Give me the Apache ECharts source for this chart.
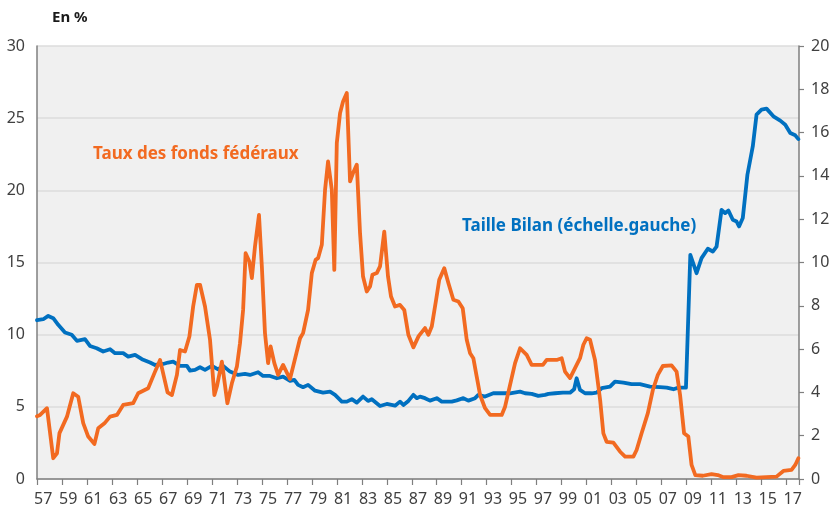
<!DOCTYPE html>
<html>
<head>
<meta charset="utf-8">
<title>Taille bilan / taux des fonds fédéraux</title>
<script src="https://cdn.jsdelivr.net/npm/echarts@6/dist/echarts.min.js"></script>
<style>
  html, body { margin: 0; padding: 0; background: #fff; }
  #chart { width: 836px; height: 509px; }
</style>
</head>
<body>
<div id="chart"></div>
<script>
// années affichées sur l'axe (57 ... 17)
const yearLabels = [];
for (let y = 1957; y <= 2017; y++) {
  yearLabels.push(String(y).slice(2));
}

// Taux des fonds fédéraux (échelle droite)
const fedYears = [
  1957.0, 1957.25, 1957.8, 1958.3, 1958.6, 1958.8, 1959.4, 1959.9, 1960.3, 1960.7,
  1961.1, 1961.6, 1961.9, 1962.4, 1962.85, 1963.4, 1963.9, 1964.7, 1965.1, 1965.9,
  1966.4, 1966.85, 1967.45, 1967.8, 1968.2, 1968.45, 1968.85, 1969.2, 1969.5, 1969.8,
  1970.05, 1970.45, 1970.85, 1971.2, 1971.4, 1971.8, 1972.24, 1972.6, 1973.0, 1973.25,
  1973.5, 1973.7, 1974.0, 1974.2, 1974.45, 1974.77, 1975.0, 1975.25, 1975.5, 1975.7,
  1976.0, 1976.3, 1976.7, 1977.25, 1977.5, 1978.06, 1978.3, 1978.7, 1979.0, 1979.3,
  1979.5, 1979.8, 1980.06, 1980.3, 1980.6, 1980.8, 1981.0, 1981.26, 1981.5, 1981.8,
  1982.06, 1982.3, 1982.6, 1982.86, 1983.1, 1983.4, 1983.66, 1983.85, 1984.2, 1984.46,
  1984.8, 1985.1, 1985.34, 1985.66, 1986.06, 1986.4, 1986.73, 1987.13, 1987.55, 1988.06,
  1988.33, 1988.6, 1988.95, 1989.2, 1989.6, 1989.93, 1990.33, 1990.73, 1991.08, 1991.4,
  1991.67, 1991.93, 1992.2, 1992.47, 1992.87, 1993.27, 1993.8, 1994.2, 1994.47, 1994.87,
  1995.27, 1995.67, 1996.2, 1996.6, 1997.0, 1997.5, 1997.8, 1998.6, 1999.0, 1999.27,
  1999.67, 2000.07, 2000.47, 2000.74, 2001.0, 2001.27, 2001.67, 2002.08, 2002.34, 2002.6,
  2003.14, 2003.68, 2004.08, 2004.74, 2005.0, 2005.4, 2005.9, 2006.3, 2006.7, 2007.1,
  2007.8, 2008.2, 2008.48, 2008.8, 2009.14, 2009.4, 2009.7, 2010.3, 2011.0, 2011.5,
  2011.9, 2012.6, 2013.15, 2013.8, 2014.6, 2015.4, 2016.2, 2016.75, 2017.4, 2017.7,
  2017.95
];
const fedRate = [
  2.9, 2.96, 3.27, 0.96, 1.19, 2.12, 2.88, 3.96, 3.8, 2.58,
  1.96, 1.62, 2.34, 2.57, 2.88, 2.96, 3.42, 3.5, 3.96, 4.19,
  4.89, 5.5, 4.0, 3.88, 4.81, 5.96, 5.89, 6.58, 7.97, 8.97,
  8.97, 7.97, 6.43, 3.88, 4.27, 5.42, 3.5, 4.42, 5.19, 6.27,
  7.81, 10.43, 10.05, 9.28, 10.74, 12.2, 9.82, 6.74, 5.35, 6.12,
  5.35, 4.81, 5.27, 4.62, 5.19, 6.5, 6.74, 7.81, 9.51, 10.12,
  10.2, 10.82, 13.36, 14.67, 13.36, 9.66, 15.52, 16.9, 17.44, 17.83,
  13.75, 14.13, 14.52, 11.36, 9.35, 8.66, 8.89, 9.43, 9.51, 9.82,
  11.43, 9.35, 8.43, 7.97, 8.04, 7.81, 6.66, 6.08, 6.6, 6.97,
  6.66, 7.04, 8.28, 9.2, 9.74, 9.05, 8.28, 8.2, 7.89, 6.43,
  5.81, 5.58, 4.73, 3.88, 3.27, 2.96, 2.96, 2.96, 3.34, 4.35,
  5.35, 6.04, 5.73, 5.27, 5.27, 5.27, 5.5, 5.5, 5.58, 4.96,
  4.66, 5.12, 5.58, 6.2, 6.5, 6.43, 5.5, 3.65, 2.11, 1.72,
  1.68, 1.26, 1.03, 1.03, 1.34, 2.11, 3.04, 4.11, 4.81, 5.22,
  5.25, 4.96, 3.88, 2.11, 1.96, 0.65, 0.18, 0.15, 0.22, 0.18,
  0.09, 0.09, 0.18, 0.15, 0.06, 0.09, 0.11, 0.37, 0.42, 0.65,
  0.96
];

// Taille du bilan (échelle gauche, en %)
const bilanYears = [
  1957.0, 1957.5, 1957.9, 1958.3, 1958.7, 1959.24, 1959.78, 1960.2, 1960.84, 1961.24,
  1961.78, 1962.3, 1962.85, 1963.25, 1963.9, 1964.3, 1964.85, 1965.4, 1966.05, 1966.45,
  1967.1, 1967.5, 1967.9, 1968.45, 1969.0, 1969.25, 1969.65, 1970.05, 1970.45, 1971.0,
  1971.5, 1971.9, 1972.45, 1973.1, 1973.65, 1974.05, 1974.7, 1975.1, 1975.65, 1976.2,
  1976.7, 1977.26, 1977.6, 1977.9, 1978.3, 1978.7, 1979.26, 1979.9, 1980.46, 1980.86,
  1981.4, 1981.8, 1982.2, 1982.6, 1983.1, 1983.5, 1983.8, 1984.46, 1985.0, 1985.66,
  1986.06, 1986.33, 1986.73, 1987.13, 1987.4, 1987.66, 1988.06, 1988.46, 1989.0, 1989.4,
  1990.2, 1990.6, 1991.13, 1991.53, 1992.07, 1992.33, 1992.87, 1993.53, 1994.07, 1994.87,
  1995.67, 1996.07, 1996.6, 1997.13, 1997.67, 1997.94, 1998.47, 1999.1, 1999.67, 2000.0,
  2000.2, 2000.47, 2000.87, 2001.4, 2001.8, 2002.2, 2002.87, 2003.27, 2003.94, 2004.6,
  2005.27, 2006.07, 2006.87, 2007.4, 2007.95, 2008.35, 2008.95, 2009.3, 2009.8, 2010.2,
  2010.7, 2011.1, 2011.4, 2011.8, 2012.08, 2012.35, 2012.7, 2013.0, 2013.2, 2013.5,
  2013.87, 2014.3, 2014.6, 2015.0, 2015.4, 2015.95, 2016.5, 2016.9, 2017.3, 2017.7,
  2017.95
];
const bilanSize = [
  11.0, 11.07, 11.3, 11.14, 10.68, 10.15, 9.99, 9.57, 9.69, 9.22,
  9.06, 8.83, 8.99, 8.72, 8.72, 8.48, 8.6, 8.3, 8.07, 7.9,
  7.97, 8.07, 8.13, 7.84, 7.84, 7.51, 7.56, 7.74, 7.56, 7.84,
  7.6, 7.84, 7.44, 7.21, 7.28, 7.21, 7.4, 7.14, 7.14, 6.98,
  7.09, 6.8, 6.87, 6.52, 6.36, 6.52, 6.12, 5.98, 6.05, 5.83,
  5.36, 5.36, 5.53, 5.29, 5.71, 5.41, 5.53, 5.06, 5.2, 5.08,
  5.36, 5.13, 5.41, 5.83, 5.6, 5.71, 5.6, 5.43, 5.6, 5.36,
  5.36, 5.45, 5.6, 5.43, 5.6, 5.83, 5.71, 5.94, 5.94, 5.94,
  6.05, 5.94, 5.9, 5.76, 5.83, 5.9, 5.94, 5.98, 5.98, 6.22,
  6.98, 6.17, 5.94, 5.94, 5.98, 6.29, 6.4, 6.75, 6.68, 6.57,
  6.57, 6.4, 6.36, 6.33, 6.22, 6.33, 6.33, 15.53, 14.26, 15.3,
  15.95, 15.76, 16.1, 18.65, 18.42, 18.6, 17.96, 17.84, 17.5, 18.08,
  21.08, 23.04, 25.24, 25.59, 25.66, 25.13, 24.83, 24.55, 23.97, 23.81,
  23.55
];

const startYear = 1957;
const toPoints = (years, vals) => years.map((y, i) => [y - startYear, vals[i]]);

const axisColor = '#7f7f7f';
const labelStyle = { color: '#404040', fontSize: 16, fontFamily: 'Noto Sans' };

const chart = echarts.init(document.getElementById('chart'));

const option = {
  animation: false,
  backgroundColor: '#ffffff',
  grid: {
    left: 37,
    right: 37,
    top: 46,
    bottom: 30,
    show: true,
    backgroundColor: '#f0f0f0',
    borderWidth: 0,
    outerBoundsMode: 'none'
  },
  title: {
    text: 'En %',
    left: 47,
    top: 5,
    textStyle: { fontSize: 15, fontWeight: 'bold', color: '#1a1a1a', fontFamily: 'Noto Sans' }
  },
  xAxis: [
    {
      type: 'value',
      position: 'bottom',
      min: 0,
      max: 61,
      interval: 2,
      axisLine: { show: true, lineStyle: { color: axisColor, width: 1.5 } },
      axisTick: { show: true, length: 6, lineStyle: { color: axisColor, width: 1.2 } },
      axisLabel: { show: false },
      splitLine: { show: false }
    },
    {
      type: 'category',
      position: 'bottom',
      data: yearLabels,
      boundaryGap: true,
      axisLine: { show: false },
      axisTick: { show: false },
      axisLabel: Object.assign({ interval: 1, margin: 12 }, labelStyle),
      splitLine: { show: false }
    }
  ],
  yAxis: [
    {
      type: 'value',
      min: 0,
      max: 30,
      interval: 5,
      axisLine: { show: true, lineStyle: { color: axisColor, width: 1.5 } },
      axisTick: { show: false },
      axisLabel: Object.assign({ margin: 12 }, labelStyle),
      splitLine: { show: true, lineStyle: { color: '#dcdcdc', width: 1.5 } }
    },
    {
      type: 'value',
      min: 0,
      max: 20,
      interval: 2,
      position: 'right',
      axisLine: { show: true, lineStyle: { color: axisColor, width: 1.5 } },
      axisTick: { show: true, length: 5, lineStyle: { color: axisColor, width: 1.2 } },
      axisLabel: Object.assign({ margin: 12 }, labelStyle),
      splitLine: { show: false }
    }
  ],
  series: [
    {
      name: 'Taille Bilan',
      type: 'line',
      xAxisIndex: 0,
      yAxisIndex: 0,
      showSymbol: false,
      data: toPoints(bilanYears, bilanSize),
      lineStyle: { color: '#0070c0', width: 3.8, join: 'round', cap: 'round' }
    },
    {
      name: 'Taux des fonds fédéraux',
      type: 'line',
      xAxisIndex: 0,
      yAxisIndex: 1,
      showSymbol: false,
      data: toPoints(fedYears, fedRate),
      lineStyle: { color: '#f26a21', width: 3.8, join: 'round', cap: 'round' }
    }
  ],
  graphic: [
    {
      type: 'text',
      left: 93,
      top: 146,
      style: {
        text: 'Taux des fonds fédéraux',
        fill: '#f26a21',
        font: 'bold 17px "Noto Sans"'
      }
    },
    {
      type: 'text',
      left: 462,
      top: 218,
      style: {
        text: 'Taille Bilan (échelle.gauche)',
        fill: '#0070c0',
        font: 'bold 17px "Noto Sans"'
      }
    }
  ]
};

chart.setOption(option);
</script>
</body>
</html>
